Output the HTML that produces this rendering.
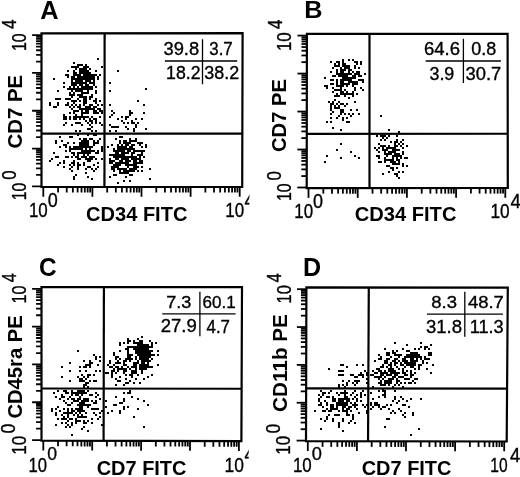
<!DOCTYPE html>
<html lang="en"><head><meta charset="utf-8"><title>Figure</title>
<style>
html,body{margin:0;padding:0;background:#fff;}
body{width:520px;height:477px;overflow:hidden;}
svg{display:block;}
svg text{font-family:"Liberation Sans",Arial,Helvetica,sans-serif;fill:#000;stroke:none;}
svg text.s{stroke:#000;stroke-width:0.35px;}
svg text.n{stroke:#000;stroke-width:0.35px;}
</style></head><body>
<svg width="520" height="477" viewBox="0 0 520 477">
<defs><clipPath id="clipL"><rect x="0" y="0" width="249.4" height="240"/></clipPath><clipPath id="clipC"><rect x="0" y="240" width="248.7" height="237"/></clipPath></defs>
<rect x="0" y="0" width="520" height="477" fill="#fff" stroke="none"/>
<g stroke="#000" fill="none">
<g clip-path="url(#clipL)">
<polygon points="41.50,33.40 242.60,33.20 242.20,187.00 41.50,186.90" stroke-width="2.2"/>
<line x1="104.63" y1="33.34" x2="104.43" y2="186.93" stroke-width="2.2"/>
<line x1="41.50" y1="133.62" x2="242.34" y2="133.57" stroke-width="2.2"/>
<line x1="43.30" y1="186.90" x2="43.30" y2="196.70" stroke-width="1.8"/>
<line x1="58.08" y1="186.91" x2="58.08" y2="192.51" stroke-width="1.8"/>
<line x1="66.73" y1="186.91" x2="66.73" y2="192.51" stroke-width="1.8"/>
<line x1="72.86" y1="186.92" x2="72.86" y2="192.52" stroke-width="1.8"/>
<line x1="77.62" y1="186.92" x2="77.62" y2="192.52" stroke-width="1.8"/>
<line x1="81.51" y1="186.92" x2="81.51" y2="192.52" stroke-width="1.8"/>
<line x1="84.79" y1="186.92" x2="84.79" y2="192.52" stroke-width="1.8"/>
<line x1="87.64" y1="186.92" x2="87.64" y2="192.52" stroke-width="1.8"/>
<line x1="90.15" y1="186.92" x2="90.15" y2="192.52" stroke-width="1.8"/>
<line x1="92.40" y1="186.93" x2="92.40" y2="196.73" stroke-width="1.8"/>
<line x1="107.18" y1="186.93" x2="107.18" y2="192.53" stroke-width="1.8"/>
<line x1="115.83" y1="186.94" x2="115.83" y2="192.54" stroke-width="1.8"/>
<line x1="121.96" y1="186.94" x2="121.96" y2="192.54" stroke-width="1.8"/>
<line x1="126.72" y1="186.94" x2="126.72" y2="192.54" stroke-width="1.8"/>
<line x1="130.61" y1="186.94" x2="130.61" y2="192.54" stroke-width="1.8"/>
<line x1="133.89" y1="186.95" x2="133.89" y2="192.55" stroke-width="1.8"/>
<line x1="136.74" y1="186.95" x2="136.74" y2="192.55" stroke-width="1.8"/>
<line x1="139.25" y1="186.95" x2="139.25" y2="192.55" stroke-width="1.8"/>
<line x1="141.50" y1="186.95" x2="141.50" y2="196.75" stroke-width="1.8"/>
<line x1="156.28" y1="186.96" x2="156.28" y2="192.56" stroke-width="1.8"/>
<line x1="164.93" y1="186.96" x2="164.93" y2="192.56" stroke-width="1.8"/>
<line x1="171.06" y1="186.96" x2="171.06" y2="192.56" stroke-width="1.8"/>
<line x1="175.82" y1="186.97" x2="175.82" y2="192.57" stroke-width="1.8"/>
<line x1="179.71" y1="186.97" x2="179.71" y2="192.57" stroke-width="1.8"/>
<line x1="182.99" y1="186.97" x2="182.99" y2="192.57" stroke-width="1.8"/>
<line x1="185.84" y1="186.97" x2="185.84" y2="192.57" stroke-width="1.8"/>
<line x1="188.35" y1="186.97" x2="188.35" y2="192.57" stroke-width="1.8"/>
<line x1="190.60" y1="186.97" x2="190.60" y2="196.77" stroke-width="1.8"/>
<line x1="205.38" y1="186.98" x2="205.38" y2="192.58" stroke-width="1.8"/>
<line x1="214.03" y1="186.99" x2="214.03" y2="192.59" stroke-width="1.8"/>
<line x1="220.16" y1="186.99" x2="220.16" y2="192.59" stroke-width="1.8"/>
<line x1="224.92" y1="186.99" x2="224.92" y2="192.59" stroke-width="1.8"/>
<line x1="228.81" y1="186.99" x2="228.81" y2="192.59" stroke-width="1.8"/>
<line x1="232.09" y1="186.99" x2="232.09" y2="192.59" stroke-width="1.8"/>
<line x1="234.94" y1="187.00" x2="234.94" y2="192.60" stroke-width="1.8"/>
<line x1="237.45" y1="187.00" x2="237.45" y2="192.60" stroke-width="1.8"/>
<line x1="239.70" y1="187.00" x2="239.70" y2="196.80" stroke-width="1.8"/>
<line x1="32.10" y1="186.30" x2="41.50" y2="186.30" stroke-width="1.8"/>
<line x1="36.10" y1="174.93" x2="41.50" y2="174.93" stroke-width="1.8"/>
<line x1="36.10" y1="168.28" x2="41.50" y2="168.28" stroke-width="1.8"/>
<line x1="36.10" y1="163.56" x2="41.50" y2="163.56" stroke-width="1.8"/>
<line x1="36.10" y1="159.90" x2="41.50" y2="159.90" stroke-width="1.8"/>
<line x1="36.10" y1="156.91" x2="41.50" y2="156.91" stroke-width="1.8"/>
<line x1="36.10" y1="154.38" x2="41.50" y2="154.38" stroke-width="1.8"/>
<line x1="36.10" y1="152.19" x2="41.50" y2="152.19" stroke-width="1.8"/>
<line x1="36.10" y1="150.25" x2="41.50" y2="150.25" stroke-width="1.8"/>
<line x1="32.10" y1="148.53" x2="41.50" y2="148.53" stroke-width="1.8"/>
<line x1="36.10" y1="137.15" x2="41.50" y2="137.15" stroke-width="1.8"/>
<line x1="36.10" y1="130.50" x2="41.50" y2="130.50" stroke-width="1.8"/>
<line x1="36.10" y1="125.78" x2="41.50" y2="125.78" stroke-width="1.8"/>
<line x1="36.10" y1="122.12" x2="41.50" y2="122.12" stroke-width="1.8"/>
<line x1="36.10" y1="119.13" x2="41.50" y2="119.13" stroke-width="1.8"/>
<line x1="36.10" y1="116.60" x2="41.50" y2="116.60" stroke-width="1.8"/>
<line x1="36.10" y1="114.41" x2="41.50" y2="114.41" stroke-width="1.8"/>
<line x1="36.10" y1="112.48" x2="41.50" y2="112.48" stroke-width="1.8"/>
<line x1="32.10" y1="110.75" x2="41.50" y2="110.75" stroke-width="1.8"/>
<line x1="36.10" y1="99.38" x2="41.50" y2="99.38" stroke-width="1.8"/>
<line x1="36.10" y1="92.73" x2="41.50" y2="92.73" stroke-width="1.8"/>
<line x1="36.10" y1="88.01" x2="41.50" y2="88.01" stroke-width="1.8"/>
<line x1="36.10" y1="84.35" x2="41.50" y2="84.35" stroke-width="1.8"/>
<line x1="36.10" y1="81.36" x2="41.50" y2="81.36" stroke-width="1.8"/>
<line x1="36.10" y1="78.83" x2="41.50" y2="78.83" stroke-width="1.8"/>
<line x1="36.10" y1="76.64" x2="41.50" y2="76.64" stroke-width="1.8"/>
<line x1="36.10" y1="74.70" x2="41.50" y2="74.70" stroke-width="1.8"/>
<line x1="32.10" y1="72.97" x2="41.50" y2="72.97" stroke-width="1.8"/>
<line x1="36.10" y1="61.60" x2="41.50" y2="61.60" stroke-width="1.8"/>
<line x1="36.10" y1="54.95" x2="41.50" y2="54.95" stroke-width="1.8"/>
<line x1="36.10" y1="50.23" x2="41.50" y2="50.23" stroke-width="1.8"/>
<line x1="36.10" y1="46.57" x2="41.50" y2="46.57" stroke-width="1.8"/>
<line x1="36.10" y1="43.58" x2="41.50" y2="43.58" stroke-width="1.8"/>
<line x1="36.10" y1="41.05" x2="41.50" y2="41.05" stroke-width="1.8"/>
<line x1="36.10" y1="38.86" x2="41.50" y2="38.86" stroke-width="1.8"/>
<line x1="36.10" y1="36.93" x2="41.50" y2="36.93" stroke-width="1.8"/>
<line x1="32.10" y1="35.20" x2="41.50" y2="35.20" stroke-width="1.8"/>
<text transform="translate(40.27,18.60) scale(1.0083,1)" font-size="25.16" font-weight="bold">A</text>
<text transform="translate(28.93,217.49) scale(0.8210,1)" font-size="20.64" class="n">10</text>
<text transform="translate(47.78,207.49) scale(0.8728,1)" font-size="20.64" class="n">0</text>
<text transform="translate(225.33,217.40) scale(0.8267,1)" font-size="20.49" class="n">10</text>
<text transform="translate(244.39,206.80) scale(0.8820,1)" font-size="20.65" class="n">4</text>
<text transform="translate(26.20,50.99) rotate(-90) scale(0.8121,1)" font-size="19.51" class="n">10</text>
<text transform="translate(16.40,28.89) rotate(-90) scale(0.8521,1)" font-size="20.22" class="n">4</text>
<text transform="translate(26.20,200.18) rotate(-90) scale(0.7842,1)" font-size="20.07" class="n">10</text>
<text transform="translate(15.50,179.67) rotate(-90) scale(0.8589,1)" font-size="19.51" class="n">0</text>
<text transform="translate(22.00,148.41) rotate(-90) scale(1.0141,1)" font-size="20.07" font-weight="bold">CD7 PE</text>
<text transform="translate(86.10,220.74) scale(0.9614,1)" font-size="20.85" font-weight="bold">CD34 FITC</text>
<text transform="translate(163.41,54.52) scale(1.0493,1)" font-size="17.53" class="s">39.8</text>
<text transform="translate(209.27,54.52) scale(0.9637,1)" font-size="17.53" class="s">3.7</text>
<text transform="translate(166.07,79.32) scale(1.0014,1)" font-size="17.67" class="s">18.2</text>
<text transform="translate(204.33,79.32) scale(1.0147,1)" font-size="17.67" class="s">38.2</text>
<line x1="202.50" y1="39.30" x2="202.50" y2="84.30" stroke-width="1.3"/>
<line x1="164.90" y1="61.00" x2="237.20" y2="61.00" stroke-width="1.3"/>
<path fill="#000" stroke="none" d="M71 88h2v2h-2zM73 70h2v2h-2zM73 72h2v2h-2zM73 74h2v2h-2zM73 76h2v2h-2zM73 78h2v2h-2zM73 82h2v2h-2zM73 84h2v2h-2zM73 86h2v2h-2zM75 68h2v2h-2zM75 72h2v2h-2zM75 78h2v2h-2zM75 80h2v2h-2zM75 82h2v2h-2zM75 84h2v2h-2zM75 88h2v2h-2zM75 90h2v2h-2zM77 74h2v2h-2zM77 78h2v2h-2zM77 82h2v2h-2zM77 86h2v2h-2zM77 88h2v2h-2zM77 90h2v2h-2zM77 94h2v2h-2zM79 64h2v2h-2zM79 70h2v2h-2zM79 76h2v2h-2zM79 78h2v2h-2zM79 82h2v2h-2zM79 84h2v2h-2zM79 88h2v2h-2zM81 64h2v2h-2zM81 68h2v2h-2zM81 70h2v2h-2zM81 76h2v2h-2zM81 78h2v2h-2zM81 80h2v2h-2zM81 82h2v2h-2zM81 84h2v2h-2zM81 86h2v2h-2zM81 88h2v2h-2zM81 90h2v2h-2zM83 66h2v2h-2zM83 68h2v2h-2zM83 70h2v2h-2zM83 74h2v2h-2zM83 76h2v2h-2zM83 78h2v2h-2zM83 82h2v2h-2zM83 86h2v2h-2zM83 88h2v2h-2zM83 92h2v2h-2zM85 64h2v2h-2zM85 66h2v2h-2zM85 68h2v2h-2zM85 70h2v2h-2zM85 72h2v2h-2zM85 76h2v2h-2zM85 78h2v2h-2zM85 80h2v2h-2zM85 82h2v2h-2zM85 84h2v2h-2zM85 86h2v2h-2zM85 88h2v2h-2zM87 70h2v2h-2zM87 72h2v2h-2zM87 74h2v2h-2zM87 76h2v2h-2zM87 78h2v2h-2zM87 80h2v2h-2zM87 84h2v2h-2zM87 86h2v2h-2zM87 88h2v2h-2zM87 90h2v2h-2zM89 72h2v2h-2zM89 74h2v2h-2zM89 76h2v2h-2zM89 78h2v2h-2zM89 80h2v2h-2zM89 82h2v2h-2zM89 86h2v2h-2zM89 88h2v2h-2zM91 74h2v2h-2zM91 76h2v2h-2zM91 78h2v2h-2zM91 82h2v2h-2zM91 88h2v2h-2zM93 74h2v2h-2zM93 78h2v2h-2zM93 80h2v2h-2zM93 82h2v2h-2zM95 86h2v2h-2zM67 74h2v2h-2zM73 94h2v2h-2zM97 76h2v2h-2zM63 82h2v2h-2zM69 88h2v2h-2zM93 76h2v2h-2zM73 66h2v2h-2zM81 72h2v2h-2zM97 58h2v2h-2zM73 62h2v2h-2zM67 70h2v2h-2zM95 90h2v2h-2zM71 90h2v2h-2zM89 68h2v2h-2zM79 68h2v2h-2zM73 88h2v2h-2zM71 84h2v2h-2zM71 78h2v2h-2zM77 80h2v2h-2zM93 84h2v2h-2zM71 66h2v2h-2zM71 80h2v2h-2zM79 72h2v2h-2zM91 86h2v2h-2zM95 70h2v2h-2zM75 74h2v2h-2zM77 64h2v2h-2zM97 78h2v2h-2zM83 98h2v2h-2zM85 92h2v2h-2zM69 86h2v2h-2zM69 94h2v2h-2zM59 98h2v2h-2zM81 96h2v2h-2zM57 90h2v2h-2zM79 74h2v2h-2zM53 78h2v2h-2zM71 76h2v2h-2zM85 74h2v2h-2zM63 86h2v2h-2zM71 82h2v2h-2zM71 96h2v2h-2zM83 72h2v2h-2zM67 76h2v2h-2zM99 74h2v2h-2zM75 66h2v2h-2zM79 80h2v2h-2zM77 76h2v2h-2zM95 74h2v2h-2zM101 66h2v2h-2zM93 100h2v2h-2zM67 88h2v2h-2zM87 66h2v2h-2zM65 74h2v2h-2zM85 96h2v2h-2zM77 66h2v2h-2zM85 98h2v2h-2zM81 92h2v2h-2zM101 110h2v2h-2zM91 130h2v2h-2zM89 118h2v2h-2zM83 116h2v2h-2zM63 114h2v2h-2zM91 104h2v2h-2zM73 102h2v2h-2zM87 112h2v2h-2zM89 108h2v2h-2zM85 116h2v2h-2zM93 118h2v2h-2zM73 106h2v2h-2zM67 104h2v2h-2zM83 112h2v2h-2zM73 118h2v2h-2zM77 122h2v2h-2zM77 98h2v2h-2zM85 100h2v2h-2zM91 120h2v2h-2zM99 116h2v2h-2zM79 106h2v2h-2zM97 104h2v2h-2zM87 106h2v2h-2zM81 114h2v2h-2zM73 92h2v2h-2zM89 124h2v2h-2zM89 106h2v2h-2zM83 104h2v2h-2zM89 104h2v2h-2zM85 120h2v2h-2zM87 108h2v2h-2zM83 108h2v2h-2zM99 108h2v2h-2zM91 96h2v2h-2zM87 110h2v2h-2zM77 110h2v2h-2zM99 122h2v2h-2zM77 106h2v2h-2zM69 98h2v2h-2zM73 116h2v2h-2zM83 100h2v2h-2zM101 112h2v2h-2zM85 102h2v2h-2zM69 92h2v2h-2zM87 122h2v2h-2zM75 114h2v2h-2zM91 126h2v2h-2zM79 122h2v2h-2zM101 124h2v2h-2zM95 110h2v2h-2zM87 92h2v2h-2zM85 110h2v2h-2zM63 118h2v2h-2zM79 100h2v2h-2zM99 110h2v2h-2zM69 118h2v2h-2zM93 112h2v2h-2zM95 102h2v2h-2zM65 118h2v2h-2zM89 96h2v2h-2zM83 118h2v2h-2zM81 124h2v2h-2zM81 108h2v2h-2zM97 112h2v2h-2zM95 98h2v2h-2zM89 98h2v2h-2zM79 130h2v2h-2zM67 102h2v2h-2zM75 118h2v2h-2zM79 96h2v2h-2zM71 104h2v2h-2zM79 118h2v2h-2zM95 120h2v2h-2zM95 100h2v2h-2zM63 116h2v2h-2zM85 112h2v2h-2zM87 116h2v2h-2zM95 92h2v2h-2zM85 108h2v2h-2zM95 106h2v2h-2zM73 112h2v2h-2zM75 130h2v2h-2zM93 108h2v2h-2zM89 128h2v2h-2zM81 110h2v2h-2zM65 98h2v2h-2zM101 104h2v2h-2zM73 100h2v2h-2zM93 110h2v2h-2zM91 94h2v2h-2zM91 116h2v2h-2zM99 100h2v2h-2zM89 120h2v2h-2zM79 90h2v2h-2zM75 116h2v2h-2zM81 116h2v2h-2zM71 124h2v2h-2zM81 94h2v2h-2zM77 116h2v2h-2zM95 118h2v2h-2zM75 110h2v2h-2zM65 104h2v2h-2zM95 130h2v2h-2zM71 94h2v2h-2zM75 122h2v2h-2zM75 104h2v2h-2zM81 112h2v2h-2zM95 112h2v2h-2zM69 112h2v2h-2zM79 104h2v2h-2zM91 108h2v2h-2zM83 102h2v2h-2zM69 106h2v2h-2zM83 96h2v2h-2zM87 128h2v2h-2zM79 116h2v2h-2zM79 94h2v2h-2zM85 106h2v2h-2zM73 110h2v2h-2zM95 122h2v2h-2zM75 100h2v2h-2zM97 108h2v2h-2zM65 122h2v2h-2zM65 116h2v2h-2zM91 122h2v2h-2zM79 108h2v2h-2zM71 108h2v2h-2zM71 100h2v2h-2zM63 124h2v2h-2zM93 106h2v2h-2zM57 98h2v2h-2zM57 102h2v2h-2zM69 116h2v2h-2zM55 98h2v2h-2zM49 104h2v2h-2zM49 102h2v2h-2zM55 106h2v2h-2zM53 106h2v2h-2zM67 98h2v2h-2zM57 104h2v2h-2zM73 148h2v2h-2zM75 148h2v2h-2zM97 142h2v2h-2zM75 174h2v2h-2zM55 142h2v2h-2zM93 144h2v2h-2zM57 164h2v2h-2zM79 152h2v2h-2zM57 156h2v2h-2zM77 166h2v2h-2zM89 158h2v2h-2zM79 142h2v2h-2zM71 166h2v2h-2zM91 150h2v2h-2zM81 148h2v2h-2zM97 166h2v2h-2zM81 156h2v2h-2zM79 148h2v2h-2zM89 166h2v2h-2zM77 158h2v2h-2zM67 142h2v2h-2zM95 158h2v2h-2zM73 142h2v2h-2zM97 140h2v2h-2zM73 146h2v2h-2zM89 152h2v2h-2zM91 156h2v2h-2zM79 144h2v2h-2zM89 138h2v2h-2zM85 152h2v2h-2zM71 170h2v2h-2zM87 134h2v2h-2zM71 136h2v2h-2zM59 162h2v2h-2zM81 150h2v2h-2zM81 146h2v2h-2zM73 152h2v2h-2zM67 156h2v2h-2zM55 140h2v2h-2zM95 142h2v2h-2zM89 146h2v2h-2zM85 150h2v2h-2zM87 158h2v2h-2zM97 150h2v2h-2zM73 164h2v2h-2zM69 164h2v2h-2zM95 152h2v2h-2zM65 144h2v2h-2zM77 162h2v2h-2zM101 150h2v2h-2zM49 160h2v2h-2zM73 162h2v2h-2zM71 148h2v2h-2zM85 148h2v2h-2zM63 162h2v2h-2zM79 158h2v2h-2zM83 156h2v2h-2zM83 142h2v2h-2zM79 138h2v2h-2zM85 158h2v2h-2zM83 154h2v2h-2zM63 160h2v2h-2zM85 172h2v2h-2zM65 156h2v2h-2zM95 134h2v2h-2zM87 166h2v2h-2zM77 134h2v2h-2zM79 146h2v2h-2zM73 160h2v2h-2zM97 162h2v2h-2zM101 158h2v2h-2zM87 160h2v2h-2zM91 178h2v2h-2zM59 146h2v2h-2zM93 150h2v2h-2zM91 168h2v2h-2zM81 144h2v2h-2zM73 176h2v2h-2zM51 158h2v2h-2zM87 176h2v2h-2zM83 144h2v2h-2zM85 138h2v2h-2zM71 162h2v2h-2zM89 150h2v2h-2zM69 168h2v2h-2zM91 138h2v2h-2zM59 136h2v2h-2zM99 138h2v2h-2zM75 156h2v2h-2zM79 164h2v2h-2zM71 152h2v2h-2zM93 170h2v2h-2zM83 140h2v2h-2zM89 148h2v2h-2zM87 154h2v2h-2zM85 156h2v2h-2zM81 152h2v2h-2zM75 146h2v2h-2zM77 168h2v2h-2zM93 156h2v2h-2zM97 152h2v2h-2zM91 158h2v2h-2zM73 178h2v2h-2zM71 156h2v2h-2zM77 148h2v2h-2zM69 148h2v2h-2zM93 164h2v2h-2zM69 150h2v2h-2zM87 146h2v2h-2zM69 136h2v2h-2zM65 150h2v2h-2zM101 148h2v2h-2zM93 140h2v2h-2zM87 140h2v2h-2zM83 162h2v2h-2zM91 146h2v2h-2zM63 144h2v2h-2zM77 164h2v2h-2zM89 160h2v2h-2zM77 152h2v2h-2zM65 146h2v2h-2zM93 142h2v2h-2zM93 134h2v2h-2zM69 146h2v2h-2zM95 168h2v2h-2zM89 156h2v2h-2zM63 166h2v2h-2zM61 140h2v2h-2zM101 146h2v2h-2zM53 152h2v2h-2zM85 168h2v2h-2zM55 156h2v2h-2zM83 164h2v2h-2zM73 154h2v2h-2zM77 154h2v2h-2zM87 150h2v2h-2zM87 142h2v2h-2zM85 140h2v2h-2zM77 156h2v2h-2zM83 146h2v2h-2zM85 144h2v2h-2zM81 140h2v2h-2zM83 138h2v2h-2zM85 146h2v2h-2zM83 152h2v2h-2zM87 144h2v2h-2zM87 152h2v2h-2zM85 142h2v2h-2zM83 150h2v2h-2zM81 142h2v2h-2zM77 146h2v2h-2zM109 154h2v2h-2zM109 162h2v2h-2zM111 154h2v2h-2zM113 148h2v2h-2zM113 154h2v2h-2zM113 156h2v2h-2zM113 160h2v2h-2zM113 164h2v2h-2zM113 168h2v2h-2zM115 138h2v2h-2zM115 150h2v2h-2zM115 154h2v2h-2zM115 158h2v2h-2zM115 162h2v2h-2zM115 164h2v2h-2zM115 166h2v2h-2zM117 144h2v2h-2zM117 146h2v2h-2zM117 152h2v2h-2zM117 154h2v2h-2zM117 156h2v2h-2zM117 158h2v2h-2zM117 162h2v2h-2zM117 164h2v2h-2zM117 166h2v2h-2zM117 168h2v2h-2zM119 136h2v2h-2zM119 146h2v2h-2zM119 148h2v2h-2zM119 150h2v2h-2zM119 154h2v2h-2zM119 156h2v2h-2zM119 160h2v2h-2zM119 162h2v2h-2zM119 164h2v2h-2zM119 168h2v2h-2zM121 144h2v2h-2zM121 146h2v2h-2zM121 148h2v2h-2zM121 150h2v2h-2zM121 152h2v2h-2zM121 154h2v2h-2zM121 158h2v2h-2zM121 160h2v2h-2zM121 162h2v2h-2zM121 168h2v2h-2zM121 172h2v2h-2zM123 140h2v2h-2zM123 142h2v2h-2zM123 146h2v2h-2zM123 148h2v2h-2zM123 150h2v2h-2zM123 152h2v2h-2zM123 154h2v2h-2zM123 156h2v2h-2zM123 158h2v2h-2zM123 162h2v2h-2zM123 168h2v2h-2zM123 172h2v2h-2zM125 142h2v2h-2zM125 144h2v2h-2zM125 146h2v2h-2zM125 148h2v2h-2zM125 156h2v2h-2zM125 160h2v2h-2zM125 164h2v2h-2zM125 168h2v2h-2zM125 170h2v2h-2zM125 176h2v2h-2zM127 142h2v2h-2zM127 144h2v2h-2zM127 148h2v2h-2zM127 150h2v2h-2zM127 152h2v2h-2zM127 156h2v2h-2zM127 158h2v2h-2zM127 160h2v2h-2zM127 162h2v2h-2zM127 164h2v2h-2zM127 166h2v2h-2zM127 170h2v2h-2zM127 172h2v2h-2zM129 138h2v2h-2zM129 140h2v2h-2zM129 142h2v2h-2zM129 146h2v2h-2zM129 148h2v2h-2zM129 150h2v2h-2zM129 156h2v2h-2zM129 160h2v2h-2zM129 164h2v2h-2zM129 168h2v2h-2zM129 170h2v2h-2zM131 140h2v2h-2zM131 144h2v2h-2zM131 146h2v2h-2zM131 148h2v2h-2zM131 152h2v2h-2zM131 154h2v2h-2zM131 156h2v2h-2zM131 164h2v2h-2zM131 168h2v2h-2zM131 170h2v2h-2zM131 174h2v2h-2zM133 140h2v2h-2zM133 144h2v2h-2zM133 148h2v2h-2zM133 150h2v2h-2zM133 152h2v2h-2zM133 156h2v2h-2zM133 158h2v2h-2zM133 160h2v2h-2zM133 162h2v2h-2zM133 164h2v2h-2zM133 166h2v2h-2zM133 168h2v2h-2zM133 170h2v2h-2zM135 138h2v2h-2zM135 150h2v2h-2zM135 156h2v2h-2zM135 158h2v2h-2zM135 160h2v2h-2zM135 162h2v2h-2zM135 164h2v2h-2zM135 166h2v2h-2zM135 168h2v2h-2zM137 142h2v2h-2zM137 150h2v2h-2zM137 154h2v2h-2zM137 158h2v2h-2zM137 162h2v2h-2zM137 170h2v2h-2zM139 142h2v2h-2zM139 144h2v2h-2zM139 150h2v2h-2zM139 154h2v2h-2zM139 156h2v2h-2zM139 158h2v2h-2zM139 162h2v2h-2zM141 146h2v2h-2zM141 150h2v2h-2zM141 152h2v2h-2zM141 154h2v2h-2zM141 160h2v2h-2zM141 162h2v2h-2zM141 166h2v2h-2zM141 170h2v2h-2zM143 156h2v2h-2zM111 162h2v2h-2zM119 140h2v2h-2zM107 146h2v2h-2zM125 172h2v2h-2zM109 158h2v2h-2zM111 144h2v2h-2zM113 166h2v2h-2zM111 168h2v2h-2zM117 182h2v2h-2zM109 160h2v2h-2zM117 148h2v2h-2zM119 142h2v2h-2zM115 152h2v2h-2zM135 140h2v2h-2zM117 150h2v2h-2zM125 158h2v2h-2zM111 166h2v2h-2zM115 156h2v2h-2zM113 170h2v2h-2zM137 166h2v2h-2zM143 150h2v2h-2zM145 144h2v2h-2zM119 172h2v2h-2zM119 170h2v2h-2zM129 180h2v2h-2zM139 160h2v2h-2zM111 160h2v2h-2zM123 180h2v2h-2zM123 170h2v2h-2zM131 158h2v2h-2zM121 136h2v2h-2zM113 174h2v2h-2zM129 174h2v2h-2zM145 146h2v2h-2zM113 150h2v2h-2zM125 152h2v2h-2zM149 178h2v2h-2zM121 156h2v2h-2zM109 176h2v2h-2zM149 168h2v2h-2zM115 174h2v2h-2zM141 142h2v2h-2zM125 162h2v2h-2zM125 140h2v2h-2zM133 130h2v2h-2zM133 122h2v2h-2zM121 120h2v2h-2zM135 126h2v2h-2zM125 118h2v2h-2zM127 122h2v2h-2zM129 110h2v2h-2zM129 112h2v2h-2zM123 122h2v2h-2zM117 118h2v2h-2zM115 126h2v2h-2zM115 130h2v2h-2zM113 126h2v2h-2zM121 116h2v2h-2zM137 122h2v2h-2zM111 126h2v2h-2zM131 112h2v2h-2zM133 128h2v2h-2zM111 110h2v2h-2zM127 116h2v2h-2zM129 114h2v2h-2zM109 124h2v2h-2zM113 112h2v2h-2zM111 114h2v2h-2zM135 124h2v2h-2zM131 120h2v2h-2zM125 116h2v2h-2zM131 122h2v2h-2zM135 118h2v2h-2zM109 116h2v2h-2zM143 112h2v2h-2zM127 128h2v2h-2zM109 130h2v2h-2zM117 126h2v2h-2zM141 118h2v2h-2zM145 128h2v2h-2zM125 126h2v2h-2zM117 70h2v2h-2zM109 82h2v2h-2zM109 90h2v2h-2zM145 88h2v2h-2zM137 100h2v2h-2zM143 104h2v2h-2zM109 104h2v2h-2z"/>
</g>
<polygon points="306.90,33.80 507.60,33.80 507.80,188.00 306.70,188.10" stroke-width="2.2"/>
<line x1="369.50" y1="33.80" x2="369.50" y2="188.07" stroke-width="2.2"/>
<line x1="306.77" y1="133.82" x2="507.73" y2="133.77" stroke-width="2.2"/>
<line x1="308.50" y1="188.10" x2="308.50" y2="197.90" stroke-width="1.8"/>
<line x1="323.31" y1="188.09" x2="323.31" y2="193.69" stroke-width="1.8"/>
<line x1="331.97" y1="188.09" x2="331.97" y2="193.69" stroke-width="1.8"/>
<line x1="338.12" y1="188.08" x2="338.12" y2="193.68" stroke-width="1.8"/>
<line x1="342.89" y1="188.08" x2="342.89" y2="193.68" stroke-width="1.8"/>
<line x1="346.79" y1="188.08" x2="346.79" y2="193.68" stroke-width="1.8"/>
<line x1="350.08" y1="188.08" x2="350.08" y2="193.68" stroke-width="1.8"/>
<line x1="352.93" y1="188.08" x2="352.93" y2="193.68" stroke-width="1.8"/>
<line x1="355.45" y1="188.08" x2="355.45" y2="193.68" stroke-width="1.8"/>
<line x1="357.70" y1="188.07" x2="357.70" y2="197.87" stroke-width="1.8"/>
<line x1="372.51" y1="188.07" x2="372.51" y2="193.67" stroke-width="1.8"/>
<line x1="381.17" y1="188.06" x2="381.17" y2="193.66" stroke-width="1.8"/>
<line x1="387.32" y1="188.06" x2="387.32" y2="193.66" stroke-width="1.8"/>
<line x1="392.09" y1="188.06" x2="392.09" y2="193.66" stroke-width="1.8"/>
<line x1="395.99" y1="188.06" x2="395.99" y2="193.66" stroke-width="1.8"/>
<line x1="399.28" y1="188.05" x2="399.28" y2="193.65" stroke-width="1.8"/>
<line x1="402.13" y1="188.05" x2="402.13" y2="193.65" stroke-width="1.8"/>
<line x1="404.65" y1="188.05" x2="404.65" y2="193.65" stroke-width="1.8"/>
<line x1="406.90" y1="188.05" x2="406.90" y2="197.85" stroke-width="1.8"/>
<line x1="421.71" y1="188.04" x2="421.71" y2="193.64" stroke-width="1.8"/>
<line x1="430.37" y1="188.04" x2="430.37" y2="193.64" stroke-width="1.8"/>
<line x1="436.52" y1="188.04" x2="436.52" y2="193.64" stroke-width="1.8"/>
<line x1="441.29" y1="188.03" x2="441.29" y2="193.63" stroke-width="1.8"/>
<line x1="445.19" y1="188.03" x2="445.19" y2="193.63" stroke-width="1.8"/>
<line x1="448.48" y1="188.03" x2="448.48" y2="193.63" stroke-width="1.8"/>
<line x1="451.33" y1="188.03" x2="451.33" y2="193.63" stroke-width="1.8"/>
<line x1="453.85" y1="188.03" x2="453.85" y2="193.63" stroke-width="1.8"/>
<line x1="456.10" y1="188.03" x2="456.10" y2="197.83" stroke-width="1.8"/>
<line x1="470.91" y1="188.02" x2="470.91" y2="193.62" stroke-width="1.8"/>
<line x1="479.57" y1="188.01" x2="479.57" y2="193.61" stroke-width="1.8"/>
<line x1="485.72" y1="188.01" x2="485.72" y2="193.61" stroke-width="1.8"/>
<line x1="490.49" y1="188.01" x2="490.49" y2="193.61" stroke-width="1.8"/>
<line x1="494.39" y1="188.01" x2="494.39" y2="193.61" stroke-width="1.8"/>
<line x1="497.68" y1="188.01" x2="497.68" y2="193.61" stroke-width="1.8"/>
<line x1="500.53" y1="188.00" x2="500.53" y2="193.60" stroke-width="1.8"/>
<line x1="503.05" y1="188.00" x2="503.05" y2="193.60" stroke-width="1.8"/>
<line x1="505.30" y1="188.00" x2="505.30" y2="197.80" stroke-width="1.8"/>
<line x1="297.30" y1="187.50" x2="306.70" y2="187.50" stroke-width="1.8"/>
<line x1="301.32" y1="176.07" x2="306.72" y2="176.07" stroke-width="1.8"/>
<line x1="301.32" y1="169.38" x2="306.72" y2="169.38" stroke-width="1.8"/>
<line x1="301.33" y1="164.64" x2="306.73" y2="164.64" stroke-width="1.8"/>
<line x1="301.34" y1="160.96" x2="306.74" y2="160.96" stroke-width="1.8"/>
<line x1="301.34" y1="157.95" x2="306.74" y2="157.95" stroke-width="1.8"/>
<line x1="301.34" y1="155.41" x2="306.74" y2="155.41" stroke-width="1.8"/>
<line x1="301.35" y1="153.21" x2="306.75" y2="153.21" stroke-width="1.8"/>
<line x1="301.35" y1="151.26" x2="306.75" y2="151.26" stroke-width="1.8"/>
<line x1="297.35" y1="149.53" x2="306.75" y2="149.53" stroke-width="1.8"/>
<line x1="301.36" y1="138.09" x2="306.76" y2="138.09" stroke-width="1.8"/>
<line x1="301.37" y1="131.41" x2="306.77" y2="131.41" stroke-width="1.8"/>
<line x1="301.38" y1="126.66" x2="306.78" y2="126.66" stroke-width="1.8"/>
<line x1="301.38" y1="122.98" x2="306.78" y2="122.98" stroke-width="1.8"/>
<line x1="301.39" y1="119.97" x2="306.79" y2="119.97" stroke-width="1.8"/>
<line x1="301.39" y1="117.43" x2="306.79" y2="117.43" stroke-width="1.8"/>
<line x1="301.39" y1="115.23" x2="306.79" y2="115.23" stroke-width="1.8"/>
<line x1="301.40" y1="113.29" x2="306.80" y2="113.29" stroke-width="1.8"/>
<line x1="297.40" y1="111.55" x2="306.80" y2="111.55" stroke-width="1.8"/>
<line x1="301.41" y1="100.12" x2="306.81" y2="100.12" stroke-width="1.8"/>
<line x1="301.42" y1="93.43" x2="306.82" y2="93.43" stroke-width="1.8"/>
<line x1="301.43" y1="88.69" x2="306.83" y2="88.69" stroke-width="1.8"/>
<line x1="301.43" y1="85.01" x2="306.83" y2="85.01" stroke-width="1.8"/>
<line x1="301.44" y1="82.00" x2="306.84" y2="82.00" stroke-width="1.8"/>
<line x1="301.44" y1="79.46" x2="306.84" y2="79.46" stroke-width="1.8"/>
<line x1="301.44" y1="77.26" x2="306.84" y2="77.26" stroke-width="1.8"/>
<line x1="301.45" y1="75.31" x2="306.85" y2="75.31" stroke-width="1.8"/>
<line x1="297.45" y1="73.57" x2="306.85" y2="73.57" stroke-width="1.8"/>
<line x1="301.46" y1="62.14" x2="306.86" y2="62.14" stroke-width="1.8"/>
<line x1="301.47" y1="55.46" x2="306.87" y2="55.46" stroke-width="1.8"/>
<line x1="301.48" y1="50.71" x2="306.88" y2="50.71" stroke-width="1.8"/>
<line x1="301.48" y1="47.03" x2="306.88" y2="47.03" stroke-width="1.8"/>
<line x1="301.49" y1="44.02" x2="306.89" y2="44.02" stroke-width="1.8"/>
<line x1="301.49" y1="41.48" x2="306.89" y2="41.48" stroke-width="1.8"/>
<line x1="301.49" y1="39.28" x2="306.89" y2="39.28" stroke-width="1.8"/>
<line x1="301.50" y1="37.34" x2="306.90" y2="37.34" stroke-width="1.8"/>
<line x1="297.50" y1="35.60" x2="306.90" y2="35.60" stroke-width="1.8"/>
<text transform="translate(304.20,18.20) scale(1.0270,1)" font-size="24.58" font-weight="bold">B</text>
<text transform="translate(294.23,217.99) scale(0.8210,1)" font-size="20.64" class="n">10</text>
<text transform="translate(313.08,207.99) scale(0.8728,1)" font-size="20.64" class="n">0</text>
<text transform="translate(490.51,217.70) scale(0.8472,1)" font-size="20.35" class="n">10</text>
<text transform="translate(510.48,207.90) scale(0.9012,1)" font-size="20.65" class="n">4</text>
<text transform="translate(291.20,51.07) rotate(-90) scale(0.8686,1)" font-size="19.51" class="n">10</text>
<text transform="translate(282.00,29.19) rotate(-90) scale(0.8437,1)" font-size="20.65" class="n">4</text>
<text transform="translate(291.20,200.99) rotate(-90) scale(0.8121,1)" font-size="19.51" class="n">10</text>
<text transform="translate(280.60,180.47) rotate(-90) scale(0.8589,1)" font-size="19.51" class="n">0</text>
<text transform="translate(285.80,152.01) rotate(-90) scale(0.9931,1)" font-size="20.35" font-weight="bold">CD7 PE</text>
<text transform="translate(354.70,221.04) scale(0.9652,1)" font-size="20.85" font-weight="bold">CD34 FITC</text>
<text transform="translate(423.97,54.72) scale(1.0564,1)" font-size="17.53" class="s">64.6</text>
<text transform="translate(471.28,54.72) scale(1.0255,1)" font-size="17.53" class="s">0.8</text>
<text transform="translate(429.43,79.82) scale(1.0049,1)" font-size="17.81" class="s">3.9</text>
<text transform="translate(465.61,79.82) scale(1.0308,1)" font-size="17.81" class="s">30.7</text>
<line x1="463.40" y1="38.80" x2="463.40" y2="83.00" stroke-width="1.3"/>
<line x1="425.70" y1="61.00" x2="500.90" y2="61.00" stroke-width="1.3"/>
<path fill="#000" stroke="none" d="M324 77h2v2h-2zM324 85h2v2h-2zM326 85h2v2h-2zM326 87h2v2h-2zM330 61h2v2h-2zM330 71h2v2h-2zM330 79h2v2h-2zM330 83h2v2h-2zM332 67h2v2h-2zM332 75h2v2h-2zM332 79h2v2h-2zM332 83h2v2h-2zM332 87h2v2h-2zM332 91h2v2h-2zM334 63h2v2h-2zM334 65h2v2h-2zM334 75h2v2h-2zM334 89h2v2h-2zM334 95h2v2h-2zM334 99h2v2h-2zM336 61h2v2h-2zM336 65h2v2h-2zM336 69h2v2h-2zM336 71h2v2h-2zM336 73h2v2h-2zM336 79h2v2h-2zM336 81h2v2h-2zM336 83h2v2h-2zM336 85h2v2h-2zM336 89h2v2h-2zM336 93h2v2h-2zM336 95h2v2h-2zM338 61h2v2h-2zM338 63h2v2h-2zM338 65h2v2h-2zM338 73h2v2h-2zM338 85h2v2h-2zM338 89h2v2h-2zM338 95h2v2h-2zM340 67h2v2h-2zM340 69h2v2h-2zM340 71h2v2h-2zM340 73h2v2h-2zM340 75h2v2h-2zM340 83h2v2h-2zM340 87h2v2h-2zM340 89h2v2h-2zM340 91h2v2h-2zM340 93h2v2h-2zM342 59h2v2h-2zM342 61h2v2h-2zM342 63h2v2h-2zM342 65h2v2h-2zM342 69h2v2h-2zM342 73h2v2h-2zM342 77h2v2h-2zM342 79h2v2h-2zM342 81h2v2h-2zM342 83h2v2h-2zM342 85h2v2h-2zM342 91h2v2h-2zM342 93h2v2h-2zM344 63h2v2h-2zM344 65h2v2h-2zM344 67h2v2h-2zM344 69h2v2h-2zM344 75h2v2h-2zM344 77h2v2h-2zM344 83h2v2h-2zM344 89h2v2h-2zM344 93h2v2h-2zM344 95h2v2h-2zM346 65h2v2h-2zM346 77h2v2h-2zM346 79h2v2h-2zM346 83h2v2h-2zM346 85h2v2h-2zM346 91h2v2h-2zM346 93h2v2h-2zM348 59h2v2h-2zM348 65h2v2h-2zM348 67h2v2h-2zM348 69h2v2h-2zM348 79h2v2h-2zM348 81h2v2h-2zM348 83h2v2h-2zM348 93h2v2h-2zM348 97h2v2h-2zM350 69h2v2h-2zM350 73h2v2h-2zM350 77h2v2h-2zM350 79h2v2h-2zM350 81h2v2h-2zM350 93h2v2h-2zM352 59h2v2h-2zM352 71h2v2h-2zM352 75h2v2h-2zM352 81h2v2h-2zM352 83h2v2h-2zM352 85h2v2h-2zM352 91h2v2h-2zM352 93h2v2h-2zM352 95h2v2h-2zM354 61h2v2h-2zM354 65h2v2h-2zM354 67h2v2h-2zM354 73h2v2h-2zM354 75h2v2h-2zM354 77h2v2h-2zM354 81h2v2h-2zM354 83h2v2h-2zM354 87h2v2h-2zM354 89h2v2h-2zM356 61h2v2h-2zM356 63h2v2h-2zM356 71h2v2h-2zM356 73h2v2h-2zM356 81h2v2h-2zM356 83h2v2h-2zM356 93h2v2h-2zM358 67h2v2h-2zM358 71h2v2h-2zM358 73h2v2h-2zM358 75h2v2h-2zM358 79h2v2h-2zM360 61h2v2h-2zM360 63h2v2h-2zM360 75h2v2h-2zM360 79h2v2h-2zM360 87h2v2h-2zM362 79h2v2h-2zM362 81h2v2h-2zM362 89h2v2h-2zM364 73h2v2h-2zM338 75h2v2h-2zM340 79h2v2h-2zM340 81h2v2h-2zM340 85h2v2h-2zM342 71h2v2h-2zM342 75h2v2h-2zM344 73h2v2h-2zM344 79h2v2h-2zM346 67h2v2h-2zM346 73h2v2h-2zM346 75h2v2h-2zM348 71h2v2h-2zM348 73h2v2h-2zM348 77h2v2h-2zM352 77h2v2h-2zM340 103h2v2h-2zM338 115h2v2h-2zM330 109h2v2h-2zM326 121h2v2h-2zM334 107h2v2h-2zM330 121h2v2h-2zM332 111h2v2h-2zM336 117h2v2h-2zM342 119h2v2h-2zM342 103h2v2h-2zM332 103h2v2h-2zM330 103h2v2h-2zM336 107h2v2h-2zM340 109h2v2h-2zM348 113h2v2h-2zM344 105h2v2h-2zM332 101h2v2h-2zM336 103h2v2h-2zM330 117h2v2h-2zM354 101h2v2h-2zM340 113h2v2h-2zM344 113h2v2h-2zM334 105h2v2h-2zM350 109h2v2h-2zM350 115h2v2h-2zM346 103h2v2h-2zM328 101h2v2h-2zM338 101h2v2h-2zM338 107h2v2h-2zM330 107h2v2h-2zM358 113h2v2h-2zM356 109h2v2h-2zM342 117h2v2h-2zM346 121h2v2h-2zM348 121h2v2h-2zM342 109h2v2h-2zM346 117h2v2h-2zM330 105h2v2h-2zM340 111h2v2h-2zM330 113h2v2h-2zM338 105h2v2h-2zM332 127h2v2h-2zM352 113h2v2h-2zM342 111h2v2h-2zM340 129h2v2h-2zM374 147h2v2h-2zM376 135h2v2h-2zM376 149h2v2h-2zM376 155h2v2h-2zM378 143h2v2h-2zM378 147h2v2h-2zM378 151h2v2h-2zM378 155h2v2h-2zM378 157h2v2h-2zM378 161h2v2h-2zM380 135h2v2h-2zM380 139h2v2h-2zM380 145h2v2h-2zM380 161h2v2h-2zM382 135h2v2h-2zM382 137h2v2h-2zM382 145h2v2h-2zM382 147h2v2h-2zM382 149h2v2h-2zM382 173h2v2h-2zM384 135h2v2h-2zM384 139h2v2h-2zM384 145h2v2h-2zM384 149h2v2h-2zM384 151h2v2h-2zM384 153h2v2h-2zM384 157h2v2h-2zM384 159h2v2h-2zM384 161h2v2h-2zM386 137h2v2h-2zM386 147h2v2h-2zM386 149h2v2h-2zM386 153h2v2h-2zM386 155h2v2h-2zM386 159h2v2h-2zM386 165h2v2h-2zM388 135h2v2h-2zM388 145h2v2h-2zM388 147h2v2h-2zM388 151h2v2h-2zM388 153h2v2h-2zM388 159h2v2h-2zM388 165h2v2h-2zM388 171h2v2h-2zM390 147h2v2h-2zM390 159h2v2h-2zM390 161h2v2h-2zM390 167h2v2h-2zM392 147h2v2h-2zM392 149h2v2h-2zM392 155h2v2h-2zM392 157h2v2h-2zM392 159h2v2h-2zM392 161h2v2h-2zM392 163h2v2h-2zM392 167h2v2h-2zM392 169h2v2h-2zM394 143h2v2h-2zM394 145h2v2h-2zM394 147h2v2h-2zM394 151h2v2h-2zM394 153h2v2h-2zM394 155h2v2h-2zM394 161h2v2h-2zM394 163h2v2h-2zM394 173h2v2h-2zM396 135h2v2h-2zM396 139h2v2h-2zM396 145h2v2h-2zM396 149h2v2h-2zM396 153h2v2h-2zM396 157h2v2h-2zM396 159h2v2h-2zM396 163h2v2h-2zM396 167h2v2h-2zM396 173h2v2h-2zM396 175h2v2h-2zM398 143h2v2h-2zM398 149h2v2h-2zM398 153h2v2h-2zM398 155h2v2h-2zM398 159h2v2h-2zM398 161h2v2h-2zM398 163h2v2h-2zM398 171h2v2h-2zM398 177h2v2h-2zM400 141h2v2h-2zM400 145h2v2h-2zM400 155h2v2h-2zM400 157h2v2h-2zM402 139h2v2h-2zM402 143h2v2h-2zM402 147h2v2h-2zM402 151h2v2h-2zM402 153h2v2h-2zM402 163h2v2h-2zM402 165h2v2h-2zM402 171h2v2h-2zM404 157h2v2h-2zM406 145h2v2h-2zM406 157h2v2h-2zM406 165h2v2h-2zM392 151h2v2h-2zM390 151h2v2h-2zM390 153h2v2h-2zM394 141h2v2h-2zM394 149h2v2h-2zM390 141h2v2h-2zM396 155h2v2h-2zM396 141h2v2h-2zM380 115h2v2h-2zM388 129h2v2h-2zM398 131h2v2h-2zM340 143h2v2h-2zM336 149h2v2h-2zM350 151h2v2h-2zM354 155h2v2h-2zM358 157h2v2h-2zM340 157h2v2h-2zM326 155h2v2h-2zM324 161h2v2h-2z"/>
<g clip-path="url(#clipC)">
<polygon points="41.50,287.00 242.00,287.10 241.40,441.10 41.50,440.70" stroke-width="2.2"/>
<line x1="103.90" y1="287.03" x2="103.60" y2="440.82" stroke-width="2.2"/>
<line x1="41.50" y1="388.52" x2="241.60" y2="388.77" stroke-width="2.2"/>
<line x1="43.30" y1="440.70" x2="43.30" y2="450.50" stroke-width="1.8"/>
<line x1="58.02" y1="440.73" x2="58.02" y2="446.33" stroke-width="1.8"/>
<line x1="66.63" y1="440.75" x2="66.63" y2="446.35" stroke-width="1.8"/>
<line x1="72.74" y1="440.76" x2="72.74" y2="446.36" stroke-width="1.8"/>
<line x1="77.48" y1="440.77" x2="77.48" y2="446.37" stroke-width="1.8"/>
<line x1="81.35" y1="440.78" x2="81.35" y2="446.38" stroke-width="1.8"/>
<line x1="84.63" y1="440.79" x2="84.63" y2="446.39" stroke-width="1.8"/>
<line x1="87.46" y1="440.79" x2="87.46" y2="446.39" stroke-width="1.8"/>
<line x1="89.96" y1="440.80" x2="89.96" y2="446.40" stroke-width="1.8"/>
<line x1="92.20" y1="440.80" x2="92.20" y2="450.60" stroke-width="1.8"/>
<line x1="106.92" y1="440.83" x2="106.92" y2="446.43" stroke-width="1.8"/>
<line x1="115.53" y1="440.85" x2="115.53" y2="446.45" stroke-width="1.8"/>
<line x1="121.64" y1="440.86" x2="121.64" y2="446.46" stroke-width="1.8"/>
<line x1="126.38" y1="440.87" x2="126.38" y2="446.47" stroke-width="1.8"/>
<line x1="130.25" y1="440.88" x2="130.25" y2="446.48" stroke-width="1.8"/>
<line x1="133.53" y1="440.88" x2="133.53" y2="446.48" stroke-width="1.8"/>
<line x1="136.36" y1="440.89" x2="136.36" y2="446.49" stroke-width="1.8"/>
<line x1="138.86" y1="440.89" x2="138.86" y2="446.49" stroke-width="1.8"/>
<line x1="141.10" y1="440.90" x2="141.10" y2="450.70" stroke-width="1.8"/>
<line x1="155.82" y1="440.93" x2="155.82" y2="446.53" stroke-width="1.8"/>
<line x1="164.43" y1="440.95" x2="164.43" y2="446.55" stroke-width="1.8"/>
<line x1="170.54" y1="440.96" x2="170.54" y2="446.56" stroke-width="1.8"/>
<line x1="175.28" y1="440.97" x2="175.28" y2="446.57" stroke-width="1.8"/>
<line x1="179.15" y1="440.98" x2="179.15" y2="446.58" stroke-width="1.8"/>
<line x1="182.43" y1="440.98" x2="182.43" y2="446.58" stroke-width="1.8"/>
<line x1="185.26" y1="440.99" x2="185.26" y2="446.59" stroke-width="1.8"/>
<line x1="187.76" y1="440.99" x2="187.76" y2="446.59" stroke-width="1.8"/>
<line x1="190.00" y1="441.00" x2="190.00" y2="450.80" stroke-width="1.8"/>
<line x1="204.72" y1="441.03" x2="204.72" y2="446.63" stroke-width="1.8"/>
<line x1="213.33" y1="441.04" x2="213.33" y2="446.64" stroke-width="1.8"/>
<line x1="219.44" y1="441.06" x2="219.44" y2="446.66" stroke-width="1.8"/>
<line x1="224.18" y1="441.07" x2="224.18" y2="446.67" stroke-width="1.8"/>
<line x1="228.05" y1="441.07" x2="228.05" y2="446.67" stroke-width="1.8"/>
<line x1="231.33" y1="441.08" x2="231.33" y2="446.68" stroke-width="1.8"/>
<line x1="234.16" y1="441.09" x2="234.16" y2="446.69" stroke-width="1.8"/>
<line x1="236.66" y1="441.09" x2="236.66" y2="446.69" stroke-width="1.8"/>
<line x1="238.90" y1="441.09" x2="238.90" y2="450.89" stroke-width="1.8"/>
<line x1="32.10" y1="440.10" x2="41.50" y2="440.10" stroke-width="1.8"/>
<line x1="36.10" y1="428.71" x2="41.50" y2="428.71" stroke-width="1.8"/>
<line x1="36.10" y1="422.05" x2="41.50" y2="422.05" stroke-width="1.8"/>
<line x1="36.10" y1="417.33" x2="41.50" y2="417.33" stroke-width="1.8"/>
<line x1="36.10" y1="413.66" x2="41.50" y2="413.66" stroke-width="1.8"/>
<line x1="36.10" y1="410.67" x2="41.50" y2="410.67" stroke-width="1.8"/>
<line x1="36.10" y1="408.13" x2="41.50" y2="408.13" stroke-width="1.8"/>
<line x1="36.10" y1="405.94" x2="41.50" y2="405.94" stroke-width="1.8"/>
<line x1="36.10" y1="404.01" x2="41.50" y2="404.01" stroke-width="1.8"/>
<line x1="32.10" y1="402.27" x2="41.50" y2="402.27" stroke-width="1.8"/>
<line x1="36.10" y1="390.89" x2="41.50" y2="390.89" stroke-width="1.8"/>
<line x1="36.10" y1="384.23" x2="41.50" y2="384.23" stroke-width="1.8"/>
<line x1="36.10" y1="379.50" x2="41.50" y2="379.50" stroke-width="1.8"/>
<line x1="36.10" y1="375.84" x2="41.50" y2="375.84" stroke-width="1.8"/>
<line x1="36.10" y1="372.84" x2="41.50" y2="372.84" stroke-width="1.8"/>
<line x1="36.10" y1="370.31" x2="41.50" y2="370.31" stroke-width="1.8"/>
<line x1="36.10" y1="368.12" x2="41.50" y2="368.12" stroke-width="1.8"/>
<line x1="36.10" y1="366.18" x2="41.50" y2="366.18" stroke-width="1.8"/>
<line x1="32.10" y1="364.45" x2="41.50" y2="364.45" stroke-width="1.8"/>
<line x1="36.10" y1="353.06" x2="41.50" y2="353.06" stroke-width="1.8"/>
<line x1="36.10" y1="346.40" x2="41.50" y2="346.40" stroke-width="1.8"/>
<line x1="36.10" y1="341.68" x2="41.50" y2="341.68" stroke-width="1.8"/>
<line x1="36.10" y1="338.01" x2="41.50" y2="338.01" stroke-width="1.8"/>
<line x1="36.10" y1="335.02" x2="41.50" y2="335.02" stroke-width="1.8"/>
<line x1="36.10" y1="332.48" x2="41.50" y2="332.48" stroke-width="1.8"/>
<line x1="36.10" y1="330.29" x2="41.50" y2="330.29" stroke-width="1.8"/>
<line x1="36.10" y1="328.36" x2="41.50" y2="328.36" stroke-width="1.8"/>
<line x1="32.10" y1="326.62" x2="41.50" y2="326.62" stroke-width="1.8"/>
<line x1="36.10" y1="315.24" x2="41.50" y2="315.24" stroke-width="1.8"/>
<line x1="36.10" y1="308.58" x2="41.50" y2="308.58" stroke-width="1.8"/>
<line x1="36.10" y1="303.85" x2="41.50" y2="303.85" stroke-width="1.8"/>
<line x1="36.10" y1="300.19" x2="41.50" y2="300.19" stroke-width="1.8"/>
<line x1="36.10" y1="297.19" x2="41.50" y2="297.19" stroke-width="1.8"/>
<line x1="36.10" y1="294.66" x2="41.50" y2="294.66" stroke-width="1.8"/>
<line x1="36.10" y1="292.47" x2="41.50" y2="292.47" stroke-width="1.8"/>
<line x1="36.10" y1="290.53" x2="41.50" y2="290.53" stroke-width="1.8"/>
<line x1="32.10" y1="288.80" x2="41.50" y2="288.80" stroke-width="1.8"/>
<text transform="translate(39.02,276.14) scale(0.9496,1)" font-size="25.72" font-weight="bold">C</text>
<text transform="translate(28.55,471.70) scale(0.8176,1)" font-size="20.35" class="n">10</text>
<text transform="translate(47.30,460.41) scale(0.9288,1)" font-size="18.94" class="n">0</text>
<text transform="translate(224.59,471.50) scale(0.8570,1)" font-size="20.35" class="n">10</text>
<text transform="translate(244.59,460.80) scale(0.8820,1)" font-size="20.65" class="n">4</text>
<text transform="translate(26.00,303.41) rotate(-90) scale(0.8157,1)" font-size="19.79" class="n">10</text>
<text transform="translate(15.70,282.17) rotate(-90) scale(0.8089,1)" font-size="20.07" class="n">4</text>
<text transform="translate(25.60,454.78) rotate(-90) scale(0.8737,1)" font-size="19.51" class="n">10</text>
<text transform="translate(14.90,433.41) rotate(-90) scale(0.9126,1)" font-size="19.51" class="n">0</text>
<text transform="translate(21.59,418.61) rotate(-90) scale(0.9600,1)" font-size="21.06" font-weight="bold">CD45ra PE</text>
<text transform="translate(96.70,475.00) scale(0.9948,1)" font-size="20.07" font-weight="bold">CD7 FITC</text>
<text transform="translate(166.15,307.73) scale(1.0394,1)" font-size="17.39" class="s">7.3</text>
<text transform="translate(202.45,307.73) scale(0.9807,1)" font-size="17.39" class="s">60.1</text>
<text transform="translate(160.67,332.32) scale(1.0579,1)" font-size="17.53" class="s">27.9</text>
<text transform="translate(206.52,332.50) scale(0.9342,1)" font-size="18.04" class="s">4.7</text>
<line x1="199.90" y1="291.80" x2="199.90" y2="336.20" stroke-width="1.3"/>
<line x1="162.20" y1="313.90" x2="235.60" y2="313.90" stroke-width="1.3"/>
<path fill="#000" stroke="none" d="M105 372h2v2h-2zM107 364h2v2h-2zM107 372h2v2h-2zM109 360h2v2h-2zM109 362h2v2h-2zM109 366h2v2h-2zM111 366h2v2h-2zM111 370h2v2h-2zM111 372h2v2h-2zM111 374h2v2h-2zM111 376h2v2h-2zM113 352h2v2h-2zM113 354h2v2h-2zM113 364h2v2h-2zM113 368h2v2h-2zM113 370h2v2h-2zM115 356h2v2h-2zM115 358h2v2h-2zM115 362h2v2h-2zM115 366h2v2h-2zM115 372h2v2h-2zM115 378h2v2h-2zM115 384h2v2h-2zM117 356h2v2h-2zM117 360h2v2h-2zM117 362h2v2h-2zM117 366h2v2h-2zM117 368h2v2h-2zM117 370h2v2h-2zM117 380h2v2h-2zM119 342h2v2h-2zM119 344h2v2h-2zM119 350h2v2h-2zM119 358h2v2h-2zM119 362h2v2h-2zM119 368h2v2h-2zM119 376h2v2h-2zM119 380h2v2h-2zM121 366h2v2h-2zM121 368h2v2h-2zM123 342h2v2h-2zM123 360h2v2h-2zM123 362h2v2h-2zM123 364h2v2h-2zM123 368h2v2h-2zM123 370h2v2h-2zM123 372h2v2h-2zM123 384h2v2h-2zM125 348h2v2h-2zM125 358h2v2h-2zM125 360h2v2h-2zM125 364h2v2h-2zM125 368h2v2h-2zM125 370h2v2h-2zM125 374h2v2h-2zM125 378h2v2h-2zM125 382h2v2h-2zM127 338h2v2h-2zM127 340h2v2h-2zM127 342h2v2h-2zM127 346h2v2h-2zM127 348h2v2h-2zM127 350h2v2h-2zM127 352h2v2h-2zM127 354h2v2h-2zM127 356h2v2h-2zM127 358h2v2h-2zM127 366h2v2h-2zM127 382h2v2h-2zM129 340h2v2h-2zM129 346h2v2h-2zM129 354h2v2h-2zM129 356h2v2h-2zM129 358h2v2h-2zM129 360h2v2h-2zM129 368h2v2h-2zM129 374h2v2h-2zM129 380h2v2h-2zM131 346h2v2h-2zM131 354h2v2h-2zM131 358h2v2h-2zM131 366h2v2h-2zM131 370h2v2h-2zM131 372h2v2h-2zM131 374h2v2h-2zM131 376h2v2h-2zM133 340h2v2h-2zM133 342h2v2h-2zM133 346h2v2h-2zM133 348h2v2h-2zM133 362h2v2h-2zM133 364h2v2h-2zM133 366h2v2h-2zM133 370h2v2h-2zM133 372h2v2h-2zM133 382h2v2h-2zM135 342h2v2h-2zM135 348h2v2h-2zM135 352h2v2h-2zM135 356h2v2h-2zM135 358h2v2h-2zM135 362h2v2h-2zM135 364h2v2h-2zM135 366h2v2h-2zM135 368h2v2h-2zM135 370h2v2h-2zM135 372h2v2h-2zM135 378h2v2h-2zM137 338h2v2h-2zM137 342h2v2h-2zM137 346h2v2h-2zM137 352h2v2h-2zM137 360h2v2h-2zM137 362h2v2h-2zM137 374h2v2h-2zM139 340h2v2h-2zM139 342h2v2h-2zM139 344h2v2h-2zM139 346h2v2h-2zM139 348h2v2h-2zM139 350h2v2h-2zM139 356h2v2h-2zM139 358h2v2h-2zM139 364h2v2h-2zM139 366h2v2h-2zM139 368h2v2h-2zM139 382h2v2h-2zM141 336h2v2h-2zM141 340h2v2h-2zM141 342h2v2h-2zM141 344h2v2h-2zM141 348h2v2h-2zM141 352h2v2h-2zM141 354h2v2h-2zM141 358h2v2h-2zM141 360h2v2h-2zM141 362h2v2h-2zM141 364h2v2h-2zM141 366h2v2h-2zM141 368h2v2h-2zM141 370h2v2h-2zM141 372h2v2h-2zM143 344h2v2h-2zM143 352h2v2h-2zM143 354h2v2h-2zM143 358h2v2h-2zM143 360h2v2h-2zM143 362h2v2h-2zM143 364h2v2h-2zM143 366h2v2h-2zM143 368h2v2h-2zM143 378h2v2h-2zM145 344h2v2h-2zM145 348h2v2h-2zM145 350h2v2h-2zM145 352h2v2h-2zM145 356h2v2h-2zM145 360h2v2h-2zM145 364h2v2h-2zM145 366h2v2h-2zM145 368h2v2h-2zM147 348h2v2h-2zM147 350h2v2h-2zM147 356h2v2h-2zM147 358h2v2h-2zM147 360h2v2h-2zM147 362h2v2h-2zM147 364h2v2h-2zM147 366h2v2h-2zM147 376h2v2h-2zM149 340h2v2h-2zM149 346h2v2h-2zM149 350h2v2h-2zM149 356h2v2h-2zM149 360h2v2h-2zM149 366h2v2h-2zM151 342h2v2h-2zM151 344h2v2h-2zM151 346h2v2h-2zM151 350h2v2h-2zM151 354h2v2h-2zM151 358h2v2h-2zM151 366h2v2h-2zM151 374h2v2h-2zM153 354h2v2h-2zM155 342h2v2h-2zM157 350h2v2h-2zM157 354h2v2h-2zM157 364h2v2h-2zM135 346h2v2h-2zM135 350h2v2h-2zM137 344h2v2h-2zM137 348h2v2h-2zM137 350h2v2h-2zM137 354h2v2h-2zM139 352h2v2h-2zM139 354h2v2h-2zM141 346h2v2h-2zM141 350h2v2h-2zM141 356h2v2h-2zM143 346h2v2h-2zM143 348h2v2h-2zM143 350h2v2h-2zM143 356h2v2h-2zM145 346h2v2h-2zM145 354h2v2h-2zM145 358h2v2h-2zM147 344h2v2h-2zM147 346h2v2h-2zM147 352h2v2h-2zM147 354h2v2h-2zM149 352h2v2h-2zM149 354h2v2h-2zM61 366h2v2h-2zM89 380h2v2h-2zM95 356h2v2h-2zM89 360h2v2h-2zM97 364h2v2h-2zM69 370h2v2h-2zM77 350h2v2h-2zM89 374h2v2h-2zM99 370h2v2h-2zM79 370h2v2h-2zM93 380h2v2h-2zM93 354h2v2h-2zM91 362h2v2h-2zM69 362h2v2h-2zM85 364h2v2h-2zM83 360h2v2h-2zM69 380h2v2h-2zM95 370h2v2h-2zM95 380h2v2h-2zM79 366h2v2h-2zM95 358h2v2h-2zM83 380h2v2h-2zM77 376h2v2h-2zM85 378h2v2h-2zM85 384h2v2h-2zM99 360h2v2h-2zM87 374h2v2h-2zM79 380h2v2h-2zM87 364h2v2h-2zM79 378h2v2h-2zM87 382h2v2h-2zM61 376h2v2h-2zM81 380h2v2h-2zM89 366h2v2h-2zM89 364h2v2h-2zM85 370h2v2h-2zM83 366h2v2h-2zM85 366h2v2h-2zM87 376h2v2h-2zM93 374h2v2h-2zM99 356h2v2h-2zM89 362h2v2h-2zM81 374h2v2h-2zM51 408h2v2h-2zM51 410h2v2h-2zM53 392h2v2h-2zM55 396h2v2h-2zM55 408h2v2h-2zM55 412h2v2h-2zM55 414h2v2h-2zM55 424h2v2h-2zM57 390h2v2h-2zM57 406h2v2h-2zM57 418h2v2h-2zM59 398h2v2h-2zM59 410h2v2h-2zM61 394h2v2h-2zM61 396h2v2h-2zM61 414h2v2h-2zM61 418h2v2h-2zM61 422h2v2h-2zM63 390h2v2h-2zM63 396h2v2h-2zM63 400h2v2h-2zM63 408h2v2h-2zM65 392h2v2h-2zM65 402h2v2h-2zM65 412h2v2h-2zM65 418h2v2h-2zM65 422h2v2h-2zM67 392h2v2h-2zM67 398h2v2h-2zM67 404h2v2h-2zM67 408h2v2h-2zM67 410h2v2h-2zM67 414h2v2h-2zM67 416h2v2h-2zM67 420h2v2h-2zM67 424h2v2h-2zM69 396h2v2h-2zM69 404h2v2h-2zM69 412h2v2h-2zM69 426h2v2h-2zM71 390h2v2h-2zM71 394h2v2h-2zM71 398h2v2h-2zM71 402h2v2h-2zM71 410h2v2h-2zM71 412h2v2h-2zM71 418h2v2h-2zM71 422h2v2h-2zM71 434h2v2h-2zM73 398h2v2h-2zM73 400h2v2h-2zM73 410h2v2h-2zM73 414h2v2h-2zM75 394h2v2h-2zM75 400h2v2h-2zM75 408h2v2h-2zM75 412h2v2h-2zM75 418h2v2h-2zM75 420h2v2h-2zM75 422h2v2h-2zM77 394h2v2h-2zM77 404h2v2h-2zM77 416h2v2h-2zM77 420h2v2h-2zM79 390h2v2h-2zM79 398h2v2h-2zM79 406h2v2h-2zM79 408h2v2h-2zM79 410h2v2h-2zM79 416h2v2h-2zM79 420h2v2h-2zM81 392h2v2h-2zM81 400h2v2h-2zM81 402h2v2h-2zM81 404h2v2h-2zM81 408h2v2h-2zM81 416h2v2h-2zM83 390h2v2h-2zM83 392h2v2h-2zM83 404h2v2h-2zM83 416h2v2h-2zM83 420h2v2h-2zM83 422h2v2h-2zM83 426h2v2h-2zM85 392h2v2h-2zM85 398h2v2h-2zM85 400h2v2h-2zM85 422h2v2h-2zM87 390h2v2h-2zM87 398h2v2h-2zM87 400h2v2h-2zM87 404h2v2h-2zM87 406h2v2h-2zM87 420h2v2h-2zM87 430h2v2h-2zM89 394h2v2h-2zM89 404h2v2h-2zM91 394h2v2h-2zM91 400h2v2h-2zM91 408h2v2h-2zM91 418h2v2h-2zM91 422h2v2h-2zM93 402h2v2h-2zM93 408h2v2h-2zM93 412h2v2h-2zM95 396h2v2h-2zM95 402h2v2h-2zM95 408h2v2h-2zM95 414h2v2h-2zM97 394h2v2h-2zM97 418h2v2h-2zM99 398h2v2h-2zM99 412h2v2h-2zM99 416h2v2h-2zM101 410h2v2h-2zM67 412h2v2h-2zM63 418h2v2h-2zM81 414h2v2h-2zM77 408h2v2h-2zM69 418h2v2h-2zM85 416h2v2h-2zM83 402h2v2h-2zM83 410h2v2h-2zM101 424h2v2h-2zM85 412h2v2h-2zM65 390h2v2h-2zM95 392h2v2h-2zM81 428h2v2h-2zM71 424h2v2h-2zM97 408h2v2h-2zM85 404h2v2h-2zM95 400h2v2h-2zM63 412h2v2h-2zM63 416h2v2h-2zM65 426h2v2h-2zM77 414h2v2h-2zM71 408h2v2h-2zM81 390h2v2h-2zM81 410h2v2h-2zM77 410h2v2h-2zM71 392h2v2h-2zM77 390h2v2h-2zM79 404h2v2h-2zM73 392h2v2h-2zM79 412h2v2h-2zM77 392h2v2h-2zM81 394h2v2h-2zM81 406h2v2h-2zM77 400h2v2h-2zM83 398h2v2h-2zM83 400h2v2h-2zM79 402h2v2h-2zM79 392h2v2h-2zM79 396h2v2h-2zM75 392h2v2h-2zM77 398h2v2h-2zM87 386h2v2h-2zM83 376h2v2h-2zM81 378h2v2h-2zM83 386h2v2h-2zM83 384h2v2h-2zM85 382h2v2h-2zM123 392h2v2h-2zM143 400h2v2h-2zM119 410h2v2h-2zM113 404h2v2h-2zM121 402h2v2h-2zM137 398h2v2h-2zM123 400h2v2h-2zM105 406h2v2h-2zM123 408h2v2h-2zM115 396h2v2h-2zM123 398h2v2h-2zM129 390h2v2h-2zM137 408h2v2h-2zM119 412h2v2h-2zM127 406h2v2h-2zM119 402h2v2h-2zM129 392h2v2h-2zM133 416h2v2h-2zM107 412h2v2h-2zM115 404h2v2h-2zM111 410h2v2h-2zM123 406h2v2h-2zM105 400h2v2h-2zM127 392h2v2h-2zM131 396h2v2h-2zM147 404h2v2h-2zM143 426h2v2h-2z"/>
</g>
<polygon points="306.40,287.40 507.80,287.60 506.70,441.50 306.00,441.20" stroke-width="2.2"/>
<line x1="368.79" y1="287.46" x2="368.04" y2="441.29" stroke-width="2.2"/>
<line x1="306.14" y1="388.42" x2="507.08" y2="388.67" stroke-width="2.2"/>
<line x1="307.80" y1="441.20" x2="307.80" y2="451.00" stroke-width="1.8"/>
<line x1="322.58" y1="441.22" x2="322.58" y2="446.82" stroke-width="1.8"/>
<line x1="331.23" y1="441.24" x2="331.23" y2="446.84" stroke-width="1.8"/>
<line x1="337.36" y1="441.25" x2="337.36" y2="446.85" stroke-width="1.8"/>
<line x1="342.12" y1="441.25" x2="342.12" y2="446.85" stroke-width="1.8"/>
<line x1="346.01" y1="441.26" x2="346.01" y2="446.86" stroke-width="1.8"/>
<line x1="349.29" y1="441.26" x2="349.29" y2="446.86" stroke-width="1.8"/>
<line x1="352.14" y1="441.27" x2="352.14" y2="446.87" stroke-width="1.8"/>
<line x1="354.65" y1="441.27" x2="354.65" y2="446.87" stroke-width="1.8"/>
<line x1="356.90" y1="441.28" x2="356.90" y2="451.08" stroke-width="1.8"/>
<line x1="371.68" y1="441.30" x2="371.68" y2="446.90" stroke-width="1.8"/>
<line x1="380.33" y1="441.31" x2="380.33" y2="446.91" stroke-width="1.8"/>
<line x1="386.46" y1="441.32" x2="386.46" y2="446.92" stroke-width="1.8"/>
<line x1="391.22" y1="441.33" x2="391.22" y2="446.93" stroke-width="1.8"/>
<line x1="395.11" y1="441.33" x2="395.11" y2="446.93" stroke-width="1.8"/>
<line x1="398.39" y1="441.34" x2="398.39" y2="446.94" stroke-width="1.8"/>
<line x1="401.24" y1="441.34" x2="401.24" y2="446.94" stroke-width="1.8"/>
<line x1="403.75" y1="441.35" x2="403.75" y2="446.95" stroke-width="1.8"/>
<line x1="406.00" y1="441.35" x2="406.00" y2="451.15" stroke-width="1.8"/>
<line x1="420.78" y1="441.37" x2="420.78" y2="446.97" stroke-width="1.8"/>
<line x1="429.43" y1="441.38" x2="429.43" y2="446.98" stroke-width="1.8"/>
<line x1="435.56" y1="441.39" x2="435.56" y2="446.99" stroke-width="1.8"/>
<line x1="440.32" y1="441.40" x2="440.32" y2="447.00" stroke-width="1.8"/>
<line x1="444.21" y1="441.41" x2="444.21" y2="447.01" stroke-width="1.8"/>
<line x1="447.49" y1="441.41" x2="447.49" y2="447.01" stroke-width="1.8"/>
<line x1="450.34" y1="441.42" x2="450.34" y2="447.02" stroke-width="1.8"/>
<line x1="452.85" y1="441.42" x2="452.85" y2="447.02" stroke-width="1.8"/>
<line x1="455.10" y1="441.42" x2="455.10" y2="451.22" stroke-width="1.8"/>
<line x1="469.88" y1="441.44" x2="469.88" y2="447.04" stroke-width="1.8"/>
<line x1="478.53" y1="441.46" x2="478.53" y2="447.06" stroke-width="1.8"/>
<line x1="484.66" y1="441.47" x2="484.66" y2="447.07" stroke-width="1.8"/>
<line x1="489.42" y1="441.47" x2="489.42" y2="447.07" stroke-width="1.8"/>
<line x1="493.31" y1="441.48" x2="493.31" y2="447.08" stroke-width="1.8"/>
<line x1="496.59" y1="441.48" x2="496.59" y2="447.08" stroke-width="1.8"/>
<line x1="499.44" y1="441.49" x2="499.44" y2="447.09" stroke-width="1.8"/>
<line x1="501.95" y1="441.49" x2="501.95" y2="447.09" stroke-width="1.8"/>
<line x1="504.20" y1="441.50" x2="504.20" y2="451.30" stroke-width="1.8"/>
<line x1="296.60" y1="440.60" x2="306.00" y2="440.60" stroke-width="1.8"/>
<line x1="300.63" y1="429.21" x2="306.03" y2="429.21" stroke-width="1.8"/>
<line x1="300.65" y1="422.54" x2="306.05" y2="422.54" stroke-width="1.8"/>
<line x1="300.66" y1="417.81" x2="306.06" y2="417.81" stroke-width="1.8"/>
<line x1="300.67" y1="414.14" x2="306.07" y2="414.14" stroke-width="1.8"/>
<line x1="300.68" y1="411.15" x2="306.08" y2="411.15" stroke-width="1.8"/>
<line x1="300.68" y1="408.61" x2="306.08" y2="408.61" stroke-width="1.8"/>
<line x1="300.69" y1="406.42" x2="306.09" y2="406.42" stroke-width="1.8"/>
<line x1="300.70" y1="404.48" x2="306.10" y2="404.48" stroke-width="1.8"/>
<line x1="296.70" y1="402.75" x2="306.10" y2="402.75" stroke-width="1.8"/>
<line x1="300.73" y1="391.36" x2="306.13" y2="391.36" stroke-width="1.8"/>
<line x1="300.75" y1="384.69" x2="306.15" y2="384.69" stroke-width="1.8"/>
<line x1="300.76" y1="379.96" x2="306.16" y2="379.96" stroke-width="1.8"/>
<line x1="300.77" y1="376.29" x2="306.17" y2="376.29" stroke-width="1.8"/>
<line x1="300.78" y1="373.30" x2="306.18" y2="373.30" stroke-width="1.8"/>
<line x1="300.78" y1="370.76" x2="306.18" y2="370.76" stroke-width="1.8"/>
<line x1="300.79" y1="368.57" x2="306.19" y2="368.57" stroke-width="1.8"/>
<line x1="300.79" y1="366.63" x2="306.19" y2="366.63" stroke-width="1.8"/>
<line x1="296.80" y1="364.90" x2="306.20" y2="364.90" stroke-width="1.8"/>
<line x1="300.83" y1="353.51" x2="306.23" y2="353.51" stroke-width="1.8"/>
<line x1="300.85" y1="346.84" x2="306.25" y2="346.84" stroke-width="1.8"/>
<line x1="300.86" y1="342.11" x2="306.26" y2="342.11" stroke-width="1.8"/>
<line x1="300.87" y1="338.44" x2="306.27" y2="338.44" stroke-width="1.8"/>
<line x1="300.88" y1="335.45" x2="306.28" y2="335.45" stroke-width="1.8"/>
<line x1="300.88" y1="332.91" x2="306.28" y2="332.91" stroke-width="1.8"/>
<line x1="300.89" y1="330.72" x2="306.29" y2="330.72" stroke-width="1.8"/>
<line x1="300.89" y1="328.78" x2="306.29" y2="328.78" stroke-width="1.8"/>
<line x1="296.90" y1="327.05" x2="306.30" y2="327.05" stroke-width="1.8"/>
<line x1="300.93" y1="315.66" x2="306.33" y2="315.66" stroke-width="1.8"/>
<line x1="300.94" y1="308.99" x2="306.34" y2="308.99" stroke-width="1.8"/>
<line x1="300.96" y1="304.26" x2="306.36" y2="304.26" stroke-width="1.8"/>
<line x1="300.97" y1="300.59" x2="306.37" y2="300.59" stroke-width="1.8"/>
<line x1="300.97" y1="297.60" x2="306.37" y2="297.60" stroke-width="1.8"/>
<line x1="300.98" y1="295.06" x2="306.38" y2="295.06" stroke-width="1.8"/>
<line x1="300.99" y1="292.87" x2="306.39" y2="292.87" stroke-width="1.8"/>
<line x1="300.99" y1="290.93" x2="306.39" y2="290.93" stroke-width="1.8"/>
<line x1="297.00" y1="289.20" x2="306.40" y2="289.20" stroke-width="1.8"/>
<text transform="translate(303.00,276.20) scale(1.0109,1)" font-size="24.87" font-weight="bold">D</text>
<text transform="translate(292.93,471.60) scale(0.8382,1)" font-size="20.21" class="n">10</text>
<text transform="translate(311.67,460.31) scale(0.9692,1)" font-size="18.80" class="n">0</text>
<text transform="translate(490.33,471.50) scale(0.7635,1)" font-size="20.35" class="n">10</text>
<text transform="translate(509.89,461.80) scale(0.9043,1)" font-size="20.36" class="n">4</text>
<text transform="translate(290.60,303.43) rotate(-90) scale(0.8429,1)" font-size="19.51" class="n">10</text>
<text transform="translate(280.80,282.48) rotate(-90) scale(0.8325,1)" font-size="20.22" class="n">4</text>
<text transform="translate(290.00,454.77) rotate(-90) scale(0.8441,1)" font-size="20.07" class="n">10</text>
<text transform="translate(279.90,433.40) rotate(-90) scale(0.9019,1)" font-size="19.51" class="n">0</text>
<text transform="translate(287.39,411.93) rotate(-90) scale(1.0025,1)" font-size="20.68" font-weight="bold">CD11b PE</text>
<text transform="translate(361.70,475.00) scale(0.9948,1)" font-size="20.07" font-weight="bold">CD7 FITC</text>
<text transform="translate(431.31,308.03) scale(1.0667,1)" font-size="17.39" class="s">8.3</text>
<text transform="translate(467.88,308.03) scale(1.0629,1)" font-size="17.39" class="s">48.7</text>
<text transform="translate(425.90,332.82) scale(1.0501,1)" font-size="17.67" class="s">31.8</text>
<text transform="translate(469.63,332.82) scale(1.0303,1)" font-size="17.67" class="s">11.3</text>
<line x1="464.80" y1="291.80" x2="464.80" y2="336.80" stroke-width="1.3"/>
<line x1="426.90" y1="314.20" x2="502.90" y2="314.20" stroke-width="1.3"/>
<path fill="#000" stroke="none" d="M370 374h2v2h-2zM372 370h2v2h-2zM372 374h2v2h-2zM372 386h2v2h-2zM374 360h2v2h-2zM376 368h2v2h-2zM376 372h2v2h-2zM376 376h2v2h-2zM378 354h2v2h-2zM378 358h2v2h-2zM378 368h2v2h-2zM378 370h2v2h-2zM378 378h2v2h-2zM380 356h2v2h-2zM380 358h2v2h-2zM380 366h2v2h-2zM380 370h2v2h-2zM380 372h2v2h-2zM380 374h2v2h-2zM380 382h2v2h-2zM382 364h2v2h-2zM382 366h2v2h-2zM382 372h2v2h-2zM382 378h2v2h-2zM382 384h2v2h-2zM384 348h2v2h-2zM384 360h2v2h-2zM384 362h2v2h-2zM384 370h2v2h-2zM384 372h2v2h-2zM384 376h2v2h-2zM384 380h2v2h-2zM384 384h2v2h-2zM386 352h2v2h-2zM386 354h2v2h-2zM386 358h2v2h-2zM386 360h2v2h-2zM386 362h2v2h-2zM386 366h2v2h-2zM386 372h2v2h-2zM386 374h2v2h-2zM386 380h2v2h-2zM386 382h2v2h-2zM388 352h2v2h-2zM388 354h2v2h-2zM388 358h2v2h-2zM388 364h2v2h-2zM388 368h2v2h-2zM388 378h2v2h-2zM388 380h2v2h-2zM388 382h2v2h-2zM390 356h2v2h-2zM390 362h2v2h-2zM390 364h2v2h-2zM390 366h2v2h-2zM390 368h2v2h-2zM390 370h2v2h-2zM390 372h2v2h-2zM390 378h2v2h-2zM390 382h2v2h-2zM392 350h2v2h-2zM392 352h2v2h-2zM392 360h2v2h-2zM392 368h2v2h-2zM392 370h2v2h-2zM392 372h2v2h-2zM392 386h2v2h-2zM394 342h2v2h-2zM394 352h2v2h-2zM394 354h2v2h-2zM394 358h2v2h-2zM394 360h2v2h-2zM394 362h2v2h-2zM394 364h2v2h-2zM394 370h2v2h-2zM394 372h2v2h-2zM394 374h2v2h-2zM394 376h2v2h-2zM394 384h2v2h-2zM396 350h2v2h-2zM396 354h2v2h-2zM396 358h2v2h-2zM396 362h2v2h-2zM396 366h2v2h-2zM396 372h2v2h-2zM396 374h2v2h-2zM396 378h2v2h-2zM396 380h2v2h-2zM396 382h2v2h-2zM398 354h2v2h-2zM398 356h2v2h-2zM398 360h2v2h-2zM398 368h2v2h-2zM398 372h2v2h-2zM398 376h2v2h-2zM398 380h2v2h-2zM398 384h2v2h-2zM400 354h2v2h-2zM400 362h2v2h-2zM400 364h2v2h-2zM400 376h2v2h-2zM400 382h2v2h-2zM402 348h2v2h-2zM402 358h2v2h-2zM402 360h2v2h-2zM402 364h2v2h-2zM402 368h2v2h-2zM402 370h2v2h-2zM402 372h2v2h-2zM402 376h2v2h-2zM402 386h2v2h-2zM404 356h2v2h-2zM404 358h2v2h-2zM404 360h2v2h-2zM404 362h2v2h-2zM404 366h2v2h-2zM404 372h2v2h-2zM404 374h2v2h-2zM404 378h2v2h-2zM404 382h2v2h-2zM406 344h2v2h-2zM406 350h2v2h-2zM406 354h2v2h-2zM406 360h2v2h-2zM406 362h2v2h-2zM406 364h2v2h-2zM406 370h2v2h-2zM406 374h2v2h-2zM406 378h2v2h-2zM408 350h2v2h-2zM408 362h2v2h-2zM408 364h2v2h-2zM408 378h2v2h-2zM408 382h2v2h-2zM410 352h2v2h-2zM410 356h2v2h-2zM410 362h2v2h-2zM410 364h2v2h-2zM410 366h2v2h-2zM410 370h2v2h-2zM410 372h2v2h-2zM410 374h2v2h-2zM410 376h2v2h-2zM410 382h2v2h-2zM412 352h2v2h-2zM412 358h2v2h-2zM412 362h2v2h-2zM412 366h2v2h-2zM412 374h2v2h-2zM412 380h2v2h-2zM414 348h2v2h-2zM414 352h2v2h-2zM414 354h2v2h-2zM414 360h2v2h-2zM414 362h2v2h-2zM414 364h2v2h-2zM414 368h2v2h-2zM414 372h2v2h-2zM414 378h2v2h-2zM414 382h2v2h-2zM416 352h2v2h-2zM416 354h2v2h-2zM416 358h2v2h-2zM416 378h2v2h-2zM418 348h2v2h-2zM418 364h2v2h-2zM418 366h2v2h-2zM418 368h2v2h-2zM420 342h2v2h-2zM420 346h2v2h-2zM420 356h2v2h-2zM420 364h2v2h-2zM422 360h2v2h-2zM422 362h2v2h-2zM424 346h2v2h-2zM424 348h2v2h-2zM424 356h2v2h-2zM424 358h2v2h-2zM426 346h2v2h-2zM426 362h2v2h-2zM426 368h2v2h-2zM428 348h2v2h-2zM428 352h2v2h-2zM428 354h2v2h-2zM428 358h2v2h-2zM430 352h2v2h-2zM430 372h2v2h-2zM432 364h2v2h-2zM406 356h2v2h-2zM408 354h2v2h-2zM408 356h2v2h-2zM410 354h2v2h-2zM410 358h2v2h-2zM410 360h2v2h-2zM412 354h2v2h-2zM412 356h2v2h-2zM412 360h2v2h-2zM412 364h2v2h-2zM414 356h2v2h-2zM416 356h2v2h-2zM416 360h2v2h-2zM418 354h2v2h-2zM418 356h2v2h-2zM420 358h2v2h-2zM356 376h2v2h-2zM354 376h2v2h-2zM360 374h2v2h-2zM366 372h2v2h-2zM366 382h2v2h-2zM328 368h2v2h-2zM340 374h2v2h-2zM338 374h2v2h-2zM338 386h2v2h-2zM346 384h2v2h-2zM358 380h2v2h-2zM366 378h2v2h-2zM364 370h2v2h-2zM358 374h2v2h-2zM356 380h2v2h-2zM356 382h2v2h-2zM342 384h2v2h-2zM354 384h2v2h-2zM354 380h2v2h-2zM338 370h2v2h-2zM352 374h2v2h-2zM346 366h2v2h-2zM360 372h2v2h-2zM342 370h2v2h-2zM362 364h2v2h-2zM350 374h2v2h-2zM340 370h2v2h-2zM356 364h2v2h-2zM342 374h2v2h-2zM342 364h2v2h-2zM362 376h2v2h-2zM362 374h2v2h-2zM338 384h2v2h-2zM344 386h2v2h-2zM352 382h2v2h-2zM340 364h2v2h-2zM342 380h2v2h-2zM346 382h2v2h-2zM348 380h2v2h-2zM366 374h2v2h-2zM392 378h2v2h-2zM378 382h2v2h-2zM378 376h2v2h-2zM382 374h2v2h-2zM392 376h2v2h-2zM380 376h2v2h-2zM390 380h2v2h-2zM374 376h2v2h-2zM388 370h2v2h-2zM380 384h2v2h-2zM380 380h2v2h-2zM374 372h2v2h-2zM384 382h2v2h-2zM388 384h2v2h-2zM388 374h2v2h-2zM390 374h2v2h-2zM430 344h2v2h-2zM430 354h2v2h-2zM426 358h2v2h-2zM314 410h2v2h-2zM318 394h2v2h-2zM318 398h2v2h-2zM318 400h2v2h-2zM318 404h2v2h-2zM320 390h2v2h-2zM320 396h2v2h-2zM320 402h2v2h-2zM320 404h2v2h-2zM320 418h2v2h-2zM322 392h2v2h-2zM322 394h2v2h-2zM322 406h2v2h-2zM322 410h2v2h-2zM324 392h2v2h-2zM324 400h2v2h-2zM324 410h2v2h-2zM324 420h2v2h-2zM326 396h2v2h-2zM326 402h2v2h-2zM326 404h2v2h-2zM326 408h2v2h-2zM326 416h2v2h-2zM326 418h2v2h-2zM328 392h2v2h-2zM328 396h2v2h-2zM328 410h2v2h-2zM328 414h2v2h-2zM330 390h2v2h-2zM330 404h2v2h-2zM330 408h2v2h-2zM330 410h2v2h-2zM332 396h2v2h-2zM332 398h2v2h-2zM332 400h2v2h-2zM332 404h2v2h-2zM332 406h2v2h-2zM332 408h2v2h-2zM332 418h2v2h-2zM334 398h2v2h-2zM334 400h2v2h-2zM334 408h2v2h-2zM334 414h2v2h-2zM336 392h2v2h-2zM336 402h2v2h-2zM336 408h2v2h-2zM336 414h2v2h-2zM338 394h2v2h-2zM338 400h2v2h-2zM338 404h2v2h-2zM338 410h2v2h-2zM338 414h2v2h-2zM338 422h2v2h-2zM338 424h2v2h-2zM338 426h2v2h-2zM340 400h2v2h-2zM340 404h2v2h-2zM342 392h2v2h-2zM342 400h2v2h-2zM342 402h2v2h-2zM342 404h2v2h-2zM342 408h2v2h-2zM342 418h2v2h-2zM344 392h2v2h-2zM344 394h2v2h-2zM344 396h2v2h-2zM344 398h2v2h-2zM344 404h2v2h-2zM344 406h2v2h-2zM344 410h2v2h-2zM346 392h2v2h-2zM346 396h2v2h-2zM346 408h2v2h-2zM346 410h2v2h-2zM346 412h2v2h-2zM346 414h2v2h-2zM348 398h2v2h-2zM348 400h2v2h-2zM348 406h2v2h-2zM348 408h2v2h-2zM348 414h2v2h-2zM348 422h2v2h-2zM350 394h2v2h-2zM350 406h2v2h-2zM350 420h2v2h-2zM352 392h2v2h-2zM352 398h2v2h-2zM352 404h2v2h-2zM352 414h2v2h-2zM352 416h2v2h-2zM352 418h2v2h-2zM354 390h2v2h-2zM354 396h2v2h-2zM354 402h2v2h-2zM354 404h2v2h-2zM354 422h2v2h-2zM356 394h2v2h-2zM356 398h2v2h-2zM356 400h2v2h-2zM356 404h2v2h-2zM356 408h2v2h-2zM358 412h2v2h-2zM360 392h2v2h-2zM360 394h2v2h-2zM360 396h2v2h-2zM360 400h2v2h-2zM362 390h2v2h-2zM362 404h2v2h-2zM364 394h2v2h-2zM364 406h2v2h-2zM366 404h2v2h-2zM366 410h2v2h-2zM366 412h2v2h-2zM342 406h2v2h-2zM320 428h2v2h-2zM342 420h2v2h-2zM336 404h2v2h-2zM342 430h2v2h-2zM340 392h2v2h-2zM350 410h2v2h-2zM332 420h2v2h-2zM354 406h2v2h-2zM338 398h2v2h-2zM336 406h2v2h-2zM342 398h2v2h-2zM342 410h2v2h-2zM330 406h2v2h-2zM346 398h2v2h-2zM344 390h2v2h-2zM338 402h2v2h-2zM340 398h2v2h-2zM340 402h2v2h-2zM344 402h2v2h-2zM346 400h2v2h-2zM346 402h2v2h-2zM346 404h2v2h-2zM350 402h2v2h-2zM412 414h2v2h-2zM370 402h2v2h-2zM384 396h2v2h-2zM394 390h2v2h-2zM398 400h2v2h-2zM384 406h2v2h-2zM418 428h2v2h-2zM376 404h2v2h-2zM390 412h2v2h-2zM400 396h2v2h-2zM384 392h2v2h-2zM374 402h2v2h-2zM382 390h2v2h-2zM402 404h2v2h-2zM382 406h2v2h-2zM392 400h2v2h-2zM394 398h2v2h-2zM370 408h2v2h-2zM372 406h2v2h-2zM390 404h2v2h-2zM388 408h2v2h-2zM404 416h2v2h-2zM376 402h2v2h-2zM378 406h2v2h-2zM408 406h2v2h-2zM388 418h2v2h-2zM396 402h2v2h-2zM374 404h2v2h-2zM402 398h2v2h-2zM384 426h2v2h-2zM400 410h2v2h-2zM378 396h2v2h-2zM386 404h2v2h-2zM394 412h2v2h-2zM380 408h2v2h-2zM410 434h2v2h-2zM392 410h2v2h-2zM384 394h2v2h-2zM382 388h2v2h-2zM398 408h2v2h-2zM372 398h2v2h-2zM394 396h2v2h-2zM404 412h2v2h-2zM404 404h2v2h-2zM412 412h2v2h-2zM378 404h2v2h-2zM406 400h2v2h-2zM402 414h2v2h-2zM386 418h2v2h-2zM420 398h2v2h-2zM378 390h2v2h-2zM370 404h2v2h-2zM382 394h2v2h-2zM410 398h2v2h-2zM370 392h2v2h-2zM384 390h2v2h-2z"/>
</g>
</svg>
</body></html>
